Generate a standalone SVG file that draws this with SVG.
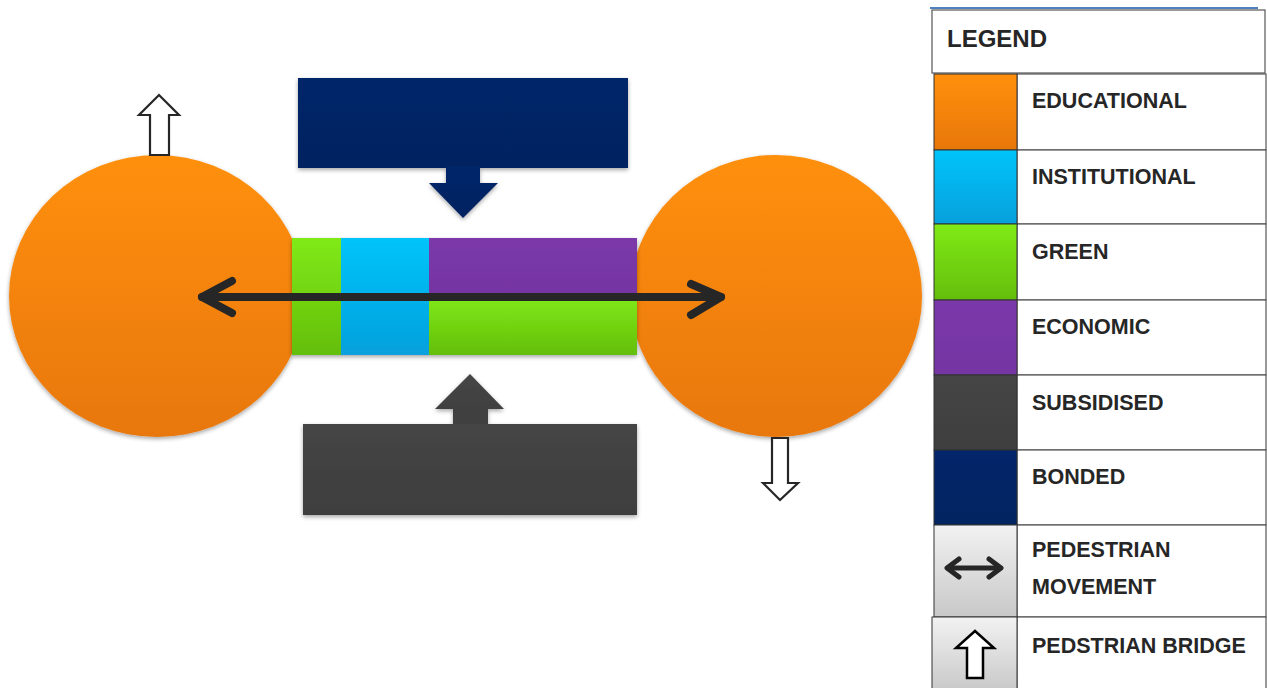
<svg xmlns="http://www.w3.org/2000/svg" width="1267" height="688" viewBox="0 0 1267 688">
<style>
.lbl{font-family:"Liberation Sans",Arial,sans-serif;font-weight:bold;font-size:21.5px;fill:#262626}
.cell{fill:#fff;stroke:#555;stroke-width:1.2}
.sw{stroke:#333;stroke-width:1}
.walk{fill:none;stroke:#262626;stroke-width:8;stroke-linecap:round;stroke-linejoin:round}
.bridge{fill:#fff;stroke:#262626;stroke-width:2.2;stroke-linejoin:miter}
</style>
<defs>
<linearGradient id="gOr" x1="0" y1="0" x2="0" y2="1"><stop offset="0" stop-color="#ff900c"/><stop offset="1" stop-color="#e8770a"/></linearGradient>
<linearGradient id="gCy" x1="0" y1="0" x2="0" y2="1"><stop offset="0" stop-color="#00c4fa"/><stop offset="1" stop-color="#07a0dc"/></linearGradient>
<linearGradient id="gGr" x1="0" y1="0" x2="0" y2="1"><stop offset="0" stop-color="#80ea16"/><stop offset="1" stop-color="#64be0c"/></linearGradient>
<linearGradient id="gPu" x1="0" y1="0" x2="0" y2="1"><stop offset="0" stop-color="#7b38aa"/><stop offset="1" stop-color="#7535a2"/></linearGradient>
<linearGradient id="gGy" x1="0" y1="0" x2="0" y2="1"><stop offset="0" stop-color="#454545"/><stop offset="1" stop-color="#3e3e3e"/></linearGradient>
<linearGradient id="gNv" x1="0" y1="0" x2="0" y2="1"><stop offset="0" stop-color="#03256a"/><stop offset="1" stop-color="#022460"/></linearGradient>
<linearGradient id="gLt" x1="0" y1="0" x2="0" y2="1"><stop offset="0" stop-color="#f2f2f2"/><stop offset="1" stop-color="#c8c8c8"/></linearGradient>
<filter id="sh" x="-10%" y="-10%" width="120%" height="130%"><feDropShadow dx="0" dy="2" stdDeviation="2" flood-color="#000" flood-opacity="0.35"/></filter>
</defs>
<rect width="1267" height="688" fill="#fff"/>

<g id="educational-left" filter="url(#sh)">
<ellipse cx="157" cy="296" rx="148" ry="141" fill="url(#gOr)"/>
</g>
<g id="educational-right" filter="url(#sh)">
<ellipse cx="776" cy="296" rx="146" ry="141" fill="url(#gOr)"/>
</g>

<g id="bonded" filter="url(#sh)">
<rect x="298" y="78" width="330" height="90" fill="url(#gNv)"/>
<path d="M446,166 H480 V183 H498 L463,218 L429,183 H446 Z" fill="url(#gNv)"/>
</g>

<g id="subsidised" filter="url(#sh)">
<path d="M453,432 V409 H435 L470,374 L504,409 H488 V432 Z" fill="url(#gGy)"/>
<rect x="303" y="424" width="334" height="91" fill="url(#gGy)"/>
</g>

<g id="central-block" filter="url(#sh)">
<rect x="292" y="238" width="49" height="117" fill="url(#gGr)"/>
<rect x="341" y="238" width="88" height="117" fill="url(#gCy)"/>
<rect x="429" y="238" width="208" height="60" fill="url(#gPu)"/>
<rect x="429" y="296" width="208" height="59" fill="url(#gGr)"/>
</g>

<g id="connectors">
<path class="walk" d="M202,297 H721"/>
<path class="walk" d="M232,281 L202,297 L232,313"/>
<path class="walk" d="M691,284 L721,297 L691,315"/>
<path class="bridge" d="M150,155 V115 H139 L159,95 L179,115 H169 V155 Z"/>
<path class="bridge" d="M772,438 V483 H763 L780,500 L798,483 H788 V438 Z"/>
</g>

<g id="legend">
<line x1="930" y1="8" x2="1258" y2="8" stroke="#4f81bd" stroke-width="2"/>
<rect class="cell" x="932" y="10" width="333" height="63"/>
<text class="lbl" x="947" y="47" style="font-size:24px">LEGEND</text>

<rect class="cell" x="1017" y="74" width="249" height="76"/>
<rect class="cell" x="1017" y="150" width="249" height="74"/>
<rect class="cell" x="1017" y="224" width="249" height="76"/>
<rect class="cell" x="1017" y="300" width="249" height="75"/>
<rect class="cell" x="1017" y="375" width="249" height="75"/>
<rect class="cell" x="1017" y="450" width="249" height="75"/>
<rect class="cell" x="1017" y="525" width="249" height="92"/>
<rect class="cell" x="1017" y="617" width="249" height="75"/>

<rect class="sw" x="934" y="74" width="83" height="76" fill="url(#gOr)"/>
<rect class="sw" x="934" y="150" width="83" height="74" fill="url(#gCy)"/>
<rect class="sw" x="934" y="224" width="83" height="76" fill="url(#gGr)"/>
<rect class="sw" x="934" y="300" width="83" height="75" fill="url(#gPu)"/>
<rect class="sw" x="934" y="375" width="83" height="75" fill="url(#gGy)"/>
<rect class="sw" x="934" y="450" width="83" height="75" fill="url(#gNv)"/>
<rect class="sw" x="934" y="525" width="83" height="92" fill="url(#gLt)" stroke="#666"/>
<rect class="sw" x="932" y="617" width="85" height="75" fill="url(#gLt)" stroke="#666"/>

<path d="M948,568 H1000" fill="none" stroke="#262626" stroke-width="5" stroke-linecap="round"/>
<path d="M959,559 L947,568 L959,577 M989,559 L1001,568 L989,577" fill="none" stroke="#262626" stroke-width="5" stroke-linecap="round" stroke-linejoin="round"/>
<path d="M967,678 V648 H956 L975,631 L994,648 H983 V678 Z" fill="#fff" stroke="#000" stroke-width="2.5"/>

<text class="lbl" x="1032" y="108">EDUCATIONAL</text>
<text class="lbl" x="1032" y="184">INSTITUTIONAL</text>
<text class="lbl" x="1032" y="259">GREEN</text>
<text class="lbl" x="1032" y="334">ECONOMIC</text>
<text class="lbl" x="1032" y="410">SUBSIDISED</text>
<text class="lbl" x="1032" y="484">BONDED</text>
<text class="lbl" x="1032" y="557">PEDESTRIAN</text>
<text class="lbl" x="1032" y="594">MOVEMENT</text>
<text class="lbl" x="1032" y="653">PEDSTRIAN BRIDGE</text>
</g>
</svg>
